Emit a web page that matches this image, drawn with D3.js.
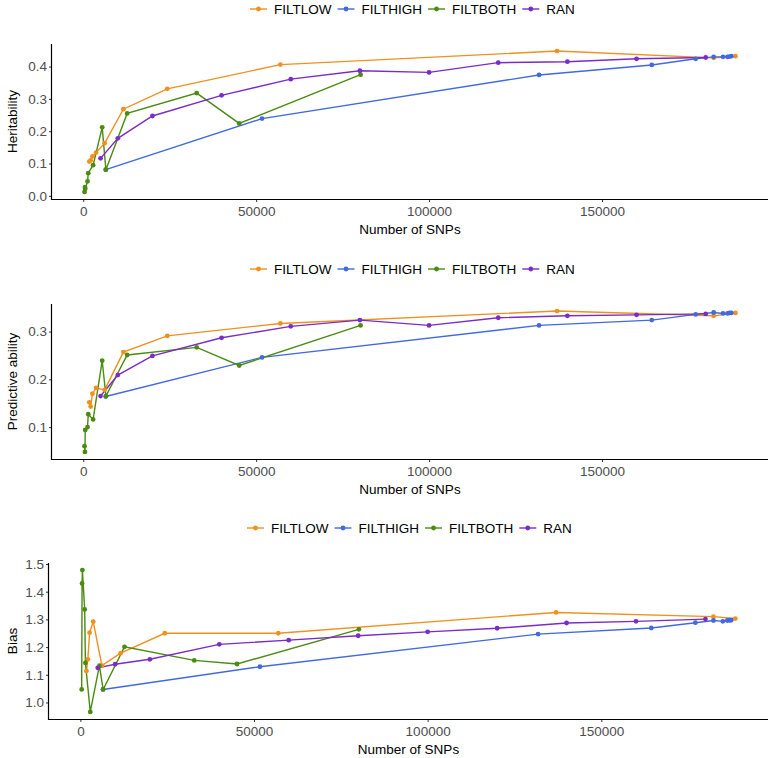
<!DOCTYPE html>
<html><head><meta charset="utf-8">
<script src="https://cdn.jsdelivr.net/npm/d3@7"></script>
<style>
html,body{margin:0;padding:0;background:#fff;}
svg text{font-family:"Liberation Sans",Arial,Helvetica,sans-serif;}
</style></head>
<body><svg id="c" width="773" height="758"></svg>
<script>
// ---- data ----
const seriesNames = ["FILTLOW", "FILTHIGH", "FILTBOTH", "RAN"];
const seriesColors = ["#F0901E", "#4169E1", "#4A8B10", "#7A2BC8"];

const xLow  = [1750, 2150, 2650, 3700, 6200, 11600, 24300, 57000, 137000, 182300, 188600];
const herLow  = [0.106, 0.110, 0.122, 0.134, 0.163, 0.268, 0.331, 0.406, 0.448, 0.427, 0.432];
const predLow = [0.152, 0.143, 0.170, 0.182, 0.178, 0.257, 0.291, 0.317, 0.343, 0.333, 0.339];
const biasLow = [1.114, 1.156, 1.252, 1.292, 1.133, 1.178, 1.250, 1.250, 1.325, 1.310, 1.303];

const xHigh = [6500, 51700, 131800, 164400, 177100, 182300, 185000, 186300, 186900, 187400];
const herHigh  = [0.081, 0.239, 0.374, 0.405, 0.424, 0.430, 0.430, 0.430, 0.431, 0.432];
const predHigh = [0.164, 0.246, 0.313, 0.324, 0.336, 0.340, 0.338, 0.338, 0.339, 0.339];
const biasHigh = [1.047, 1.129, 1.247, 1.269, 1.288, 1.296, 1.293, 1.296, 1.297, 1.297];

const xBoth = [375, 490, 580, 1240, 1450, 2850, 5480, 6550, 12700, 32800, 45100, 80200];
const herBoth  = [0.012, 0.027, 0.022, 0.045, 0.070, 0.095, 0.212, 0.081, 0.255, 0.318, 0.224, 0.375];
const predBoth = [0.060, 0.048, 0.094, 0.100, 0.127, 0.116, 0.239, 0.165, 0.251, 0.267, 0.229, 0.313];
const biasBoth = [1.047, 1.430, 1.478, 1.336, 1.143, 0.966, 1.133, 1.047, 1.201, 1.152, 1.139, 1.264];

const xRan = [5000, 10000, 20000, 40000, 60000, 80000, 100000, 120000, 140000, 160000, 180000];
const herRan  = [0.116, 0.178, 0.247, 0.311, 0.361, 0.387, 0.382, 0.412, 0.415, 0.424, 0.428];
const predRan = [0.165, 0.209, 0.249, 0.287, 0.311, 0.324, 0.313, 0.329, 0.333, 0.335, 0.337];
const biasRan = [1.125, 1.138, 1.156, 1.210, 1.225, 1.241, 1.255, 1.268, 1.287, 1.293, 1.301];

const xTicks = [0, 50000, 100000, 150000];
const herTicks = [0.0, 0.1, 0.2, 0.3, 0.4];
const predTicks = [0.1, 0.2, 0.3];
const biasTicks = [1.0, 1.1, 1.2, 1.3, 1.4, 1.5];

const xTitle = "Number of SNPs";
const panelDefs = [
  {title: "Heritability", ys: [herLow, herHigh, herBoth, herRan], ticks: herTicks, fmt: ".1f",
   left: 52, top: 44, bottom: 199, legendY: 9, legendX: 250},
  {title: "Predictive ability", ys: [predLow, predHigh, predBoth, predRan], ticks: predTicks, fmt: ".1f",
   left: 52, top: 304, bottom: 459, legendY: 269, legendX: 250},
  {title: "Bias", ys: [biasLow, biasHigh, biasBoth, biasRan], ticks: biasTicks, fmt: ".1f",
   left: 49, top: 563, bottom: 719, legendY: 528, legendX: 247}
];
const xs = [xLow, xHigh, xBoth, xRan];

// ---- drawing ----
const svg = d3.select("#c");
const right = 768;
const tickCol = "#4D4D4D";

function expand(ext, f) { const d = ext[1] - ext[0]; return [ext[0] - d * f, ext[1] + d * f]; }
const allX = xs.flat();
const xDom = expand(d3.extent(allX), 0.05);

panelDefs.forEach(p => {
  const g = svg.append("g");
  const allY = p.ys.flat();
  const x = d3.scaleLinear().domain(xDom).range([p.left, right]);
  const y = d3.scaleLinear().domain(expand(d3.extent(allY), 0.05)).range([p.bottom, p.top]);

  // axes
  const ax = g.append("g").attr("transform", `translate(0,${p.bottom})`)
    .call(d3.axisBottom(x).tickValues(xTicks).tickFormat(d3.format("d")).tickSize(3).tickPadding(4).tickSizeOuter(0));
  const ay = g.append("g").attr("transform", `translate(${p.left},0)`)
    .call(d3.axisLeft(y).tickValues(p.ticks).tickFormat(d3.format(p.fmt)).tickSize(3).tickPadding(2).tickSizeOuter(0));
  [ax, ay].forEach(a => {
    a.select(".domain").remove();
    a.selectAll(".tick line").attr("stroke", "#333").attr("stroke-width", 1);
    a.selectAll(".tick text").attr("fill", tickCol).style("font-size", "13.5px");
  });
  g.append("line").attr("x1", p.left).attr("x2", right).attr("y1", p.bottom + 0.5).attr("y2", p.bottom + 0.5)
    .attr("stroke", "#000").attr("stroke-width", 1.2);
  g.append("line").attr("x1", p.left - 0.5).attr("x2", p.left - 0.5).attr("y1", p.top).attr("y2", p.bottom + 1)
    .attr("stroke", "#000").attr("stroke-width", 1.2);

  // titles
  g.append("text").attr("x", (p.left + right) / 2).attr("y", p.bottom + 35).attr("text-anchor", "middle")
    .style("font-size", "13.5px").attr("fill", "#000").text(xTitle);
  g.append("text").attr("transform", `translate(17,${(p.top + p.bottom) / 2}) rotate(-90)`).attr("text-anchor", "middle")
    .style("font-size", "13.5px").attr("fill", "#000").text(p.title);

  // lines
  const line = d3.line().x(d => x(d[0])).y(d => y(d[1]));
  const data = seriesNames.map((n, i) => xs[i].map((xv, j) => [xv, p.ys[i][j]]).sort((a, b) => a[0] - b[0]));
  data.forEach((d, i) => {
    g.append("path").datum(d).attr("d", line).attr("fill", "none")
      .attr("stroke", seriesColors[i]).attr("stroke-width", 1.4);
  });
  data.forEach((d, i) => {
    g.selectAll(null).data(d).enter().append("circle")
      .attr("cx", v => x(v[0])).attr("cy", v => y(v[1])).attr("r", 2.4).attr("fill", seriesColors[i]);
  });

  // legend
  let lx = p.legendX;
  seriesNames.forEach((n, i) => {
    g.append("line").attr("x1", lx).attr("x2", lx + 17).attr("y1", p.legendY).attr("y2", p.legendY)
      .attr("stroke", seriesColors[i]).attr("stroke-width", 1.4);
    g.append("circle").attr("cx", lx + 8.5).attr("cy", p.legendY).attr("r", 2.4).attr("fill", seriesColors[i]);
    const t = g.append("text").attr("x", lx + 24).attr("y", p.legendY + 5).style("font-size", "13.5px")
      .attr("fill", "#000").text(n);
    lx += 24 + t.node().getComputedTextLength() + 6;
  });
});
</script></body></html>
